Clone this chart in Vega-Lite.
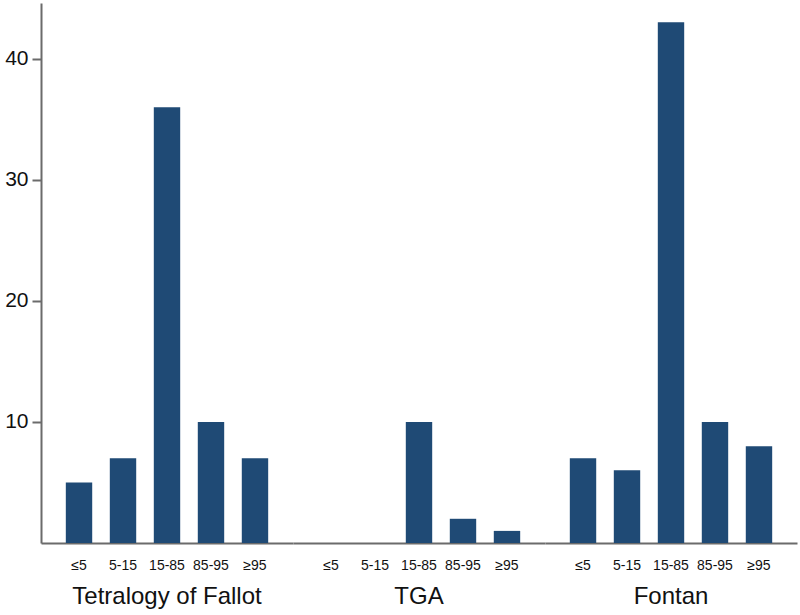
{
  "$schema": "https://vega.github.io/schema/vega-lite/v6.json",
  "padding": {"left": 4, "top": 3, "right": 4, "bottom": 0},
  "background": "white",
  "data": {"values": [
    {"group": "Tetralogy of Fallot", "pct": "≤5", "n": 5},
    {"group": "Tetralogy of Fallot", "pct": "5-15", "n": 7},
    {"group": "Tetralogy of Fallot", "pct": "15-85", "n": 36},
    {"group": "Tetralogy of Fallot", "pct": "85-95", "n": 10},
    {"group": "Tetralogy of Fallot", "pct": "≥95", "n": 7},
    {"group": "TGA", "pct": "≤5", "n": 0},
    {"group": "TGA", "pct": "5-15", "n": 0},
    {"group": "TGA", "pct": "15-85", "n": 10},
    {"group": "TGA", "pct": "85-95", "n": 2},
    {"group": "TGA", "pct": "≥95", "n": 1},
    {"group": "Fontan", "pct": "≤5", "n": 7},
    {"group": "Fontan", "pct": "5-15", "n": 6},
    {"group": "Fontan", "pct": "15-85", "n": 43},
    {"group": "Fontan", "pct": "85-95", "n": 10},
    {"group": "Fontan", "pct": "≥95", "n": 8}
  ]},
  "spacing": 0,
  "facet": {
    "column": {
      "field": "group",
      "type": "nominal",
      "sort": ["Tetralogy of Fallot", "TGA", "Fontan"],
      "header": {
        "title": null,
        "labelOrient": "bottom",
        "labelFont": "Liberation Sans",
        "labelFontSize": 24,
        "labelColor": "#111111",
        "labelPadding": 13
      }
    }
  },
  "spec": {
    "width": 252,
    "height": 540,
    "mark": {"type": "bar", "color": "#1f4a75"},
    "encoding": {
      "x": {
        "field": "pct",
        "type": "nominal",
        "sort": ["≤5", "5-15", "15-85", "85-95", "≥95"],
        "scale": {"paddingInner": 0.4, "paddingOuter": 0.564},
        "axis": {
          "title": null,
          "labelAngle": 0,
          "ticks": false,
          "labelPadding": 15,
          "labelFont": "Liberation Sans",
          "labelFontSize": 14,
          "labelColor": "#111111",
          "domainColor": "#6b6b6b",
          "domainWidth": 2
        }
      },
      "y": {
        "field": "n",
        "type": "quantitative",
        "scale": {"domain": [0, 44.6], "nice": false},
        "axis": {
          "title": null,
          "values": [10, 20, 30, 40],
          "grid": false,
          "tickSize": 9,
          "tickWidth": 2,
          "tickColor": "#6b6b6b",
          "domainColor": "#6b6b6b",
          "domainWidth": 2,
          "labelPadding": 4,
          "labelFont": "Liberation Sans",
          "labelFontSize": 21,
          "labelColor": "#111111"
        }
      }
    }
  },
  "config": {"view": {"stroke": null}}
}
